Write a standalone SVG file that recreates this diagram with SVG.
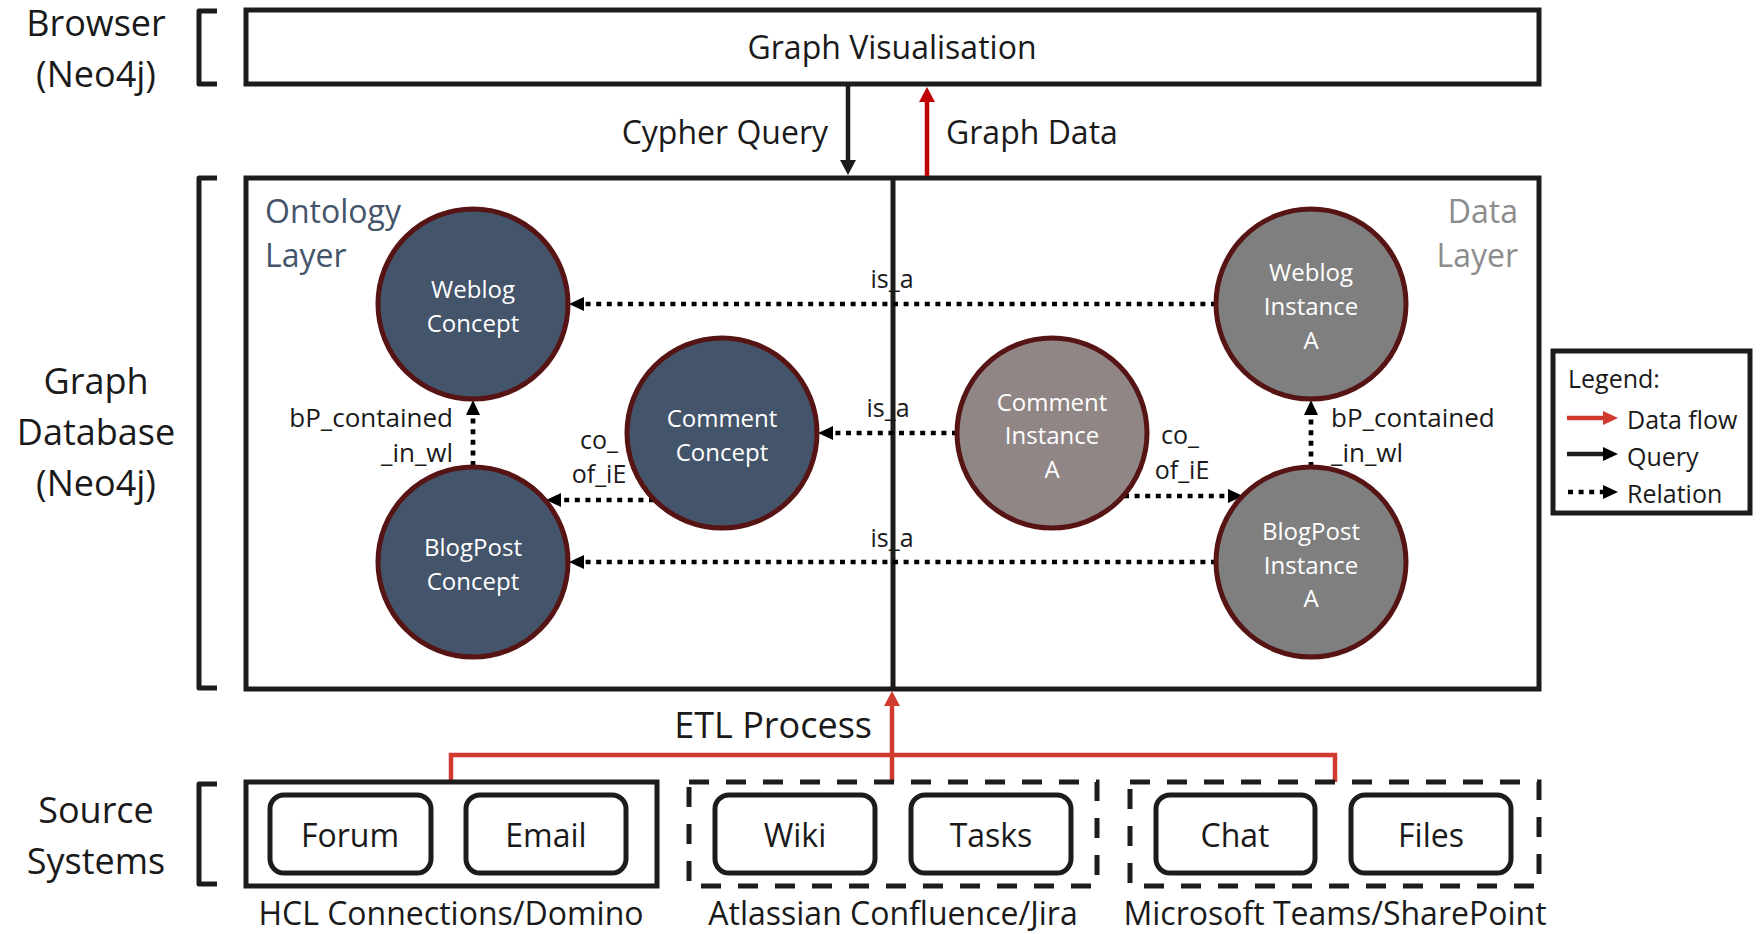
<svg xmlns="http://www.w3.org/2000/svg" width="1764" height="934" viewBox="0 0 1764 934">
  <style>
    text { font-family: "Open Sans", "Liberation Sans", sans-serif; fill: #1a1a1a; }
    .mid { text-anchor: middle; dominant-baseline: central; }
    .start { text-anchor: start; dominant-baseline: central; }
    .end { text-anchor: end; dominant-baseline: central; }
    .side { font-size: 36px; }
    .big { font-size: 32px; }
    .etl-label { font-size: 36px; }
    .rel { font-size: 25px; }
    .rel-long { font-size: 26px; }
    .node-label { font-size: 24px; fill: #ffffff; }
    .frame { fill: none; stroke: #1c1c1c; stroke-width: 5; }
    .bracket { fill: none; stroke: #1c1c1c; stroke-width: 5; stroke-linejoin: round; }
    .dashed { stroke-dasharray: 20 17; }
    .item { fill: #ffffff; stroke: #1c1c1c; stroke-width: 5; }
    .concept { fill: #44546a; stroke: #561414; stroke-width: 5; }
    .instance { fill: #7f7f7f; stroke: #561414; stroke-width: 5; }
    .instance-light { fill: #918686; stroke: #561414; stroke-width: 5; }
    .relation { fill: none; stroke: #000000; stroke-width: 4.7; stroke-dasharray: 5 5.6; }
    .query { fill: none; stroke: #1c1c1c; stroke-width: 4.5; }
    .data { fill: none; stroke: #c00000; stroke-width: 4.5; }
    .etl { fill: none; stroke: #d03a2f; stroke-width: 4.5; }
  </style>
  <defs>
    <marker id="relHead" viewBox="0 0 15 14" refX="0" refY="7" markerWidth="15" markerHeight="14" markerUnits="userSpaceOnUse" orient="auto">
      <path d="M0,0 L15,7 L0,14 Z" fill="#000000"/>
    </marker>
    <marker id="queryHead" viewBox="0 0 15 16" refX="0" refY="8" markerWidth="15" markerHeight="16" markerUnits="userSpaceOnUse" orient="auto">
      <path d="M0,0 L15,8 L0,16 Z" fill="#1c1c1c"/>
    </marker>
    <marker id="dataHead" viewBox="0 0 15 16" refX="0" refY="8" markerWidth="15" markerHeight="16" markerUnits="userSpaceOnUse" orient="auto">
      <path d="M0,0 L15,8 L0,16 Z" fill="#c00000"/>
    </marker>
    <marker id="etlHead" viewBox="0 0 15 16" refX="0" refY="8" markerWidth="15" markerHeight="16" markerUnits="userSpaceOnUse" orient="auto">
      <path d="M0,0 L15,8 L0,16 Z" fill="#d03a2f"/>
    </marker>
  </defs>

  <rect x="0" y="0" width="1764" height="934" fill="#ffffff"/>

  <!-- tier labels and brackets -->
  <g id="tier-browser">
    <path class="bracket" d="M217,11 L199,11 L199,84 L217,84"/>
    <text class="mid side" x="96" y="22">Browser</text>
    <text class="mid side" x="96" y="73">(Neo4j)</text>
  </g>
  <g id="tier-database">
    <path class="bracket" d="M217,178 L199,178 L199,688 L217,688"/>
    <text class="mid side" x="96" y="380">Graph</text>
    <text class="mid side" x="96" y="431">Database</text>
    <text class="mid side" x="96" y="482">(Neo4j)</text>
  </g>
  <g id="tier-sources">
    <path class="bracket" d="M217,784 L199,784 L199,884 L217,884"/>
    <text class="mid side" x="96" y="809">Source</text>
    <text class="mid side" x="96" y="860">Systems</text>
  </g>

  <!-- browser -->
  <g id="graph-visualisation">
    <rect class="frame" x="246" y="10" width="1293" height="74"/>
    <text class="mid big" x="892" y="46">Graph Visualisation</text>
  </g>

  <!-- graph database container -->
  <g id="graph-database">
    <rect class="frame" x="246" y="178" width="1293" height="511"/>
    <line x1="893" y1="178" x2="893" y2="689" stroke="#1c1c1c" stroke-width="5"/>
    <text class="start big" x="265" y="210" style="fill:#44546a">Ontology</text>
    <text class="start big" x="265" y="254" style="fill:#44546a">Layer</text>
    <text class="end big" x="1518" y="210" style="fill:#8c8c8c">Data</text>
    <text class="end big" x="1518" y="254" style="fill:#8c8c8c">Layer</text>
  </g>

  <!-- connectors -->
  <g id="connectors">
    <line class="query" x1="848" y1="84" x2="848" y2="160" marker-end="url(#queryHead)"/>
    <line class="data" x1="927" y1="176" x2="927" y2="102" marker-end="url(#dataHead)"/>

    <line class="relation" x1="1216" y1="304" x2="584" y2="304" marker-end="url(#relHead)"/>
    <line class="relation" x1="957" y1="433" x2="833" y2="433" marker-end="url(#relHead)"/>
    <line class="relation" x1="1216" y1="562" x2="584" y2="562" marker-end="url(#relHead)"/>
    <line class="relation" x1="654" y1="500" x2="561" y2="500" marker-end="url(#relHead)"/>
    <line class="relation" x1="473" y1="466" x2="473" y2="415" marker-end="url(#relHead)"/>
    <line class="relation" x1="1124" y1="496" x2="1228" y2="496" marker-end="url(#relHead)"/>
    <line class="relation" x1="1311" y1="467" x2="1311" y2="415" marker-end="url(#relHead)"/>

    <polyline class="etl" points="451,782 451,755 1335,755 1335,782"/>
    <line class="etl" x1="892" y1="782" x2="892" y2="706" marker-end="url(#etlHead)"/>
  </g>

  <!-- connector labels -->
  <g id="connector-labels">
    <text class="end big" x="828" y="131">Cypher Query</text>
    <text class="start big" x="946" y="131">Graph Data</text>
    <text class="mid rel" x="892" y="278">is_a</text>
    <text class="mid rel" x="888" y="407">is_a</text>
    <text class="mid rel" x="892" y="537">is_a</text>
    <text class="end rel-long" x="453" y="417">bP_contained</text>
    <text class="end rel-long" x="453" y="452">_in_wl</text>
    <text class="mid rel" x="599" y="439">co_</text>
    <text class="mid rel" x="599" y="473">of_iE</text>
    <text class="mid rel" x="1180" y="434">co_</text>
    <text class="mid rel" x="1182" y="469">of_iE</text>
    <text class="start rel-long" x="1331" y="417">bP_contained</text>
    <text class="start rel-long" x="1331" y="452">_in_wl</text>
    <text class="end etl-label" x="872" y="724">ETL Process</text>
  </g>

  <!-- ontology layer nodes -->
  <g id="weblog-concept">
    <circle class="concept" cx="473" cy="304" r="95"/>
    <text class="mid node-label" x="473" y="288">Weblog</text>
    <text class="mid node-label" x="473" y="322">Concept</text>
  </g>
  <g id="comment-concept">
    <circle class="concept" cx="722" cy="433" r="95"/>
    <text class="mid node-label" x="722" y="417">Comment</text>
    <text class="mid node-label" x="722" y="451">Concept</text>
  </g>
  <g id="blogpost-concept">
    <circle class="concept" cx="473" cy="562" r="95"/>
    <text class="mid node-label" x="473" y="546">BlogPost</text>
    <text class="mid node-label" x="473" y="580">Concept</text>
  </g>

  <!-- data layer nodes -->
  <g id="weblog-instance">
    <circle class="instance" cx="1311" cy="304" r="95"/>
    <text class="mid node-label" x="1311" y="271">Weblog</text>
    <text class="mid node-label" x="1311" y="305">Instance</text>
    <text class="mid node-label" x="1311" y="339">A</text>
  </g>
  <g id="comment-instance">
    <circle class="instance-light" cx="1052" cy="433" r="95"/>
    <text class="mid node-label" x="1052" y="401">Comment</text>
    <text class="mid node-label" x="1052" y="434">Instance</text>
    <text class="mid node-label" x="1052" y="468">A</text>
  </g>
  <g id="blogpost-instance">
    <circle class="instance" cx="1311" cy="562" r="95"/>
    <text class="mid node-label" x="1311" y="530">BlogPost</text>
    <text class="mid node-label" x="1311" y="564">Instance</text>
    <text class="mid node-label" x="1311" y="597">A</text>
  </g>

  <!-- legend -->
  <g id="legend">
    <rect class="frame" x="1553" y="351" width="197" height="162"/>
    <text class="start rel" x="1568" y="378">Legend:</text>
    <line x1="1567" y1="418" x2="1604" y2="418" stroke="#d03a2f" stroke-width="4.5"/>
    <path d="M1603,411 L1618,418 L1603,425 Z" fill="#d03a2f"/>
    <text class="start rel" x="1627" y="419">Data flow</text>
    <line x1="1567" y1="454" x2="1604" y2="454" stroke="#1c1c1c" stroke-width="4.5"/>
    <path d="M1603,447 L1618,454 L1603,461 Z" fill="#000000"/>
    <text class="start rel" x="1627" y="456">Query</text>
    <line class="relation" x1="1568" y1="492" x2="1604" y2="492"/>
    <path d="M1603,485 L1618,492 L1603,499 Z" fill="#000000"/>
    <text class="start rel" x="1627" y="493">Relation</text>
  </g>

  <!-- source systems -->
  <g id="hcl">
    <rect class="frame" x="246" y="782" width="411" height="104"/>
    <text class="mid big" x="451" y="912">HCL Connections/Domino</text>
  </g>
  <g id="forum">
    <rect class="item" x="270" y="795" width="161" height="78" rx="14"/>
    <text class="mid big" x="350" y="834">Forum</text>
  </g>
  <g id="email">
    <rect class="item" x="466" y="795" width="160" height="78" rx="14"/>
    <text class="mid big" x="546" y="834">Email</text>
  </g>

  <g id="atlassian">
    <rect class="frame dashed" x="689" y="782" width="408" height="104"/>
    <text class="mid big" x="893" y="912">Atlassian Confluence/Jira</text>
  </g>
  <g id="wiki">
    <rect class="item" x="715" y="795" width="160" height="78" rx="14"/>
    <text class="mid big" x="795" y="834">Wiki</text>
  </g>
  <g id="tasks">
    <rect class="item" x="911" y="795" width="160" height="78" rx="14"/>
    <text class="mid big" x="991" y="834">Tasks</text>
  </g>

  <g id="microsoft">
    <rect class="frame dashed" x="1130" y="782" width="409" height="104"/>
    <text class="mid big" x="1335" y="912">Microsoft Teams/SharePoint</text>
  </g>
  <g id="chat">
    <rect class="item" x="1156" y="795" width="159" height="78" rx="14"/>
    <text class="mid big" x="1235" y="834">Chat</text>
  </g>
  <g id="files">
    <rect class="item" x="1351" y="795" width="160" height="78" rx="14"/>
    <text class="mid big" x="1431" y="834">Files</text>
  </g>
</svg>
